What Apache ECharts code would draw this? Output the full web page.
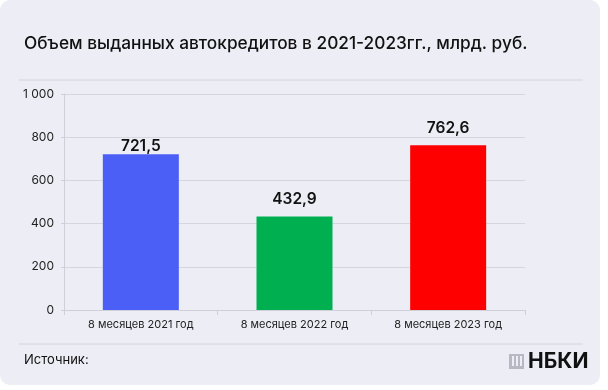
<!DOCTYPE html>
<html><head><meta charset="utf-8">
<script src="https://cdn.jsdelivr.net/npm/echarts@6/dist/echarts.min.js"></script>
<style>html,body{margin:0;padding:0;background:#fff}#c{width:608px;height:390px}</style>
</head><body><div id="c"></div>
<script>
const categories = ["8 месяцев 2021 год", "8 месяцев 2022 год", "8 месяцев 2023 год"];
const values = [721.5, 432.9, 762.6];
const yTicks = [0, 200, 400, 600, 800, 1000];
const title = "Объем выданных автокредитов в 2021-2023гг., млрд. руб.";
const source = "Источник:";
const brand = "НБКИ";

// styling (kept separate from data)
const barColors = ["#4B5FF6", "#00B050", "#FF0000"];
const labelGaps = [0, 9, 9];

const chart = echarts.init(document.getElementById('c'), null, {renderer: 'canvas'});
const font = 'Inter, "Noto Sans", sans-serif';
chart.setOption({
  backgroundColor: '#fff',
  animation: false,
  textStyle: {fontFamily: font},
  graphic: [
    {type: 'rect', z: -10, shape: {x: 0, y: 0, width: 600, height: 385, r: 10}, style: {fill: '#EDEDF5'}},
    {type: 'text', left: 24, top: 35, style: {text: title, font: '500 17.3px ' + font, fill: '#111'}},
    {type: 'line', shape: {x1: 19, y1: 80, x2: 583, y2: 80}, style: {stroke: '#D4D4E0', lineWidth: 1}},
    {type: 'line', shape: {x1: 19, y1: 344, x2: 583, y2: 344}, style: {stroke: '#D4D4E0', lineWidth: 1}},
    {type: 'text', left: 24, top: 354, style: {text: source, font: '13px ' + font, fill: '#111'}},
    {type: 'group', left: 509, top: 351, children: [
      {type: 'rect', shape: {x: 0, y: 1, width: 15, height: 15}, style: {fill: '#B8B8C4'}},
      {type: 'rect', shape: {x: 3, y: 3, width: 2, height: 10}, style: {fill: '#EDEDF5'}},
      {type: 'rect', shape: {x: 7, y: 3, width: 2, height: 10}, style: {fill: '#EDEDF5'}},
      {type: 'rect', shape: {x: 11, y: 3, width: 2, height: 10}, style: {fill: '#EDEDF5'}},
      {type: 'text', x: 19, y: -2, style: {text: brand, font: 'bold 21px ' + font, fill: '#111'}}
    ]}
  ],
  grid: {left: 64, right: 83, top: 94, bottom: 80, containLabel: false},
  xAxis: {
    type: 'category', data: categories,
    axisLine: {lineStyle: {color: '#CFCFDA'}},
    axisTick: {show: true, alignWithLabel: false, lineStyle: {color: '#CFCFDA'}},
    axisLabel: {color: '#222', fontSize: 11, margin: 9, fontFamily: font}
  },
  yAxis: {
    type: 'value', min: 0, max: 1000, interval: 200,
    axisLine: {show: true, lineStyle: {color: '#CFCFDA'}},
    axisTick: {show: true, length: 3, lineStyle: {color: '#CFCFDA'}},
    splitLine: {lineStyle: {color: '#D6D6E0'}},
    axisLabel: {color: '#222', fontSize: 12, margin: 10, fontFamily: font,
      formatter: v => v >= 1000 ? String(v).replace(/\B(?=(\d{3})+(?!\d))/g, ' ') : String(v)}
  },
  series: [{
    type: 'bar', barWidth: 76,
    data: values.map((v, i) => ({value: v, itemStyle: {color: barColors[i]}, label: {distance: labelGaps[i]}})),
    label: {show: true, position: 'top', color: '#111', fontSize: 15.5, fontWeight: 600, fontFamily: font,
      formatter: p => p.value.toFixed(1).replace('.', ',')}
  }]
});
</script></body></html>
